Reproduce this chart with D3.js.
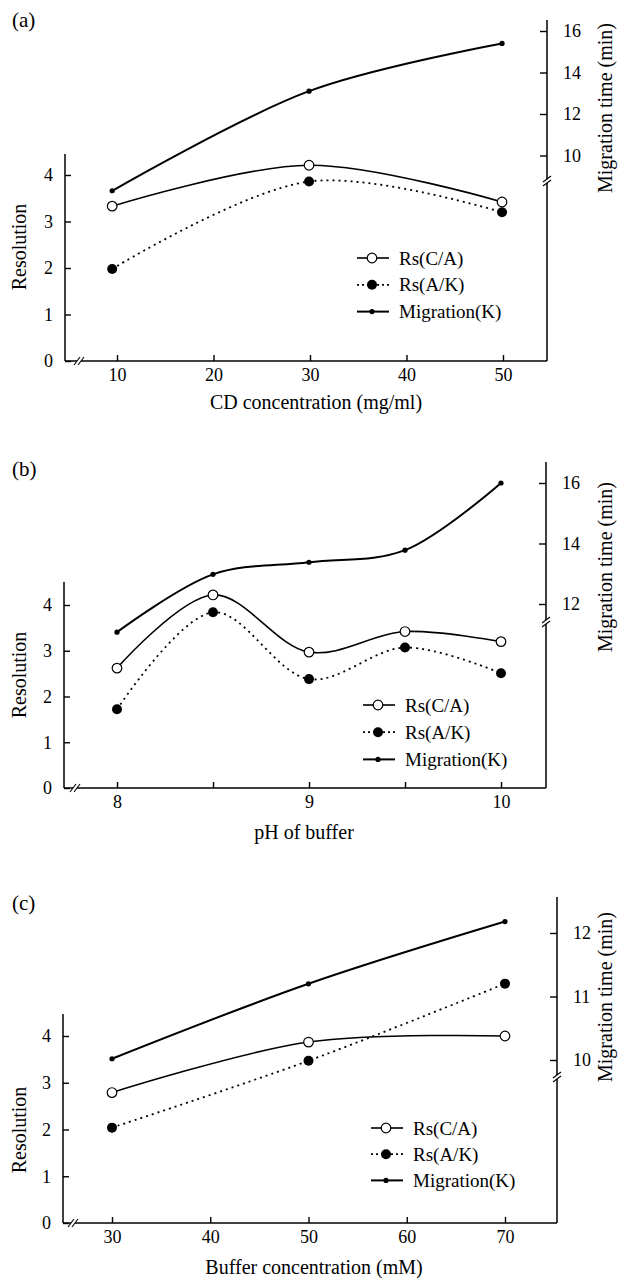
<!DOCTYPE html>
<html>
<head>
<meta charset="utf-8">
<script src="https://cdn.jsdelivr.net/npm/d3@7"></script>
<style>
  html, body { margin: 0; padding: 0; background: #fff; }
  svg { display: block; font-family: "Liberation Serif", "Times New Roman", serif; }
</style>
</head>
<body>
<div id="chart"></div>
<script>
// ---- data ----
const seriesNames = ["Rs(C/A)", "Rs(A/K)", "Migration(K)"];
const resTicks = [0, 1, 2, 3, 4];

// (a) CD concentration
const cdConc = [9.5, 29.9, 49.9];
const rsCA_a = [3.33, 4.21, 3.42];
const rsAK_a = [1.98, 3.86, 3.2];
const migK_a = [8.3, 13.1, 15.4];
const xTicks_a = [10, 20, 30, 40, 50];
const migTicks_a = [10, 12, 14, 16];

// (b) pH
const phBuf = [8, 8.5, 9, 9.5, 10];
const rsCA_b = [2.62, 4.22, 2.97, 3.42, 3.2];
const rsAK_b = [1.72, 3.84, 2.38, 3.07, 2.51];
const migK_b = [11.07, 12.98, 13.38, 13.78, 16.0];
const xTicks_b = [8, 8.5, 9, 9.5, 10];
const xLabels_b = [8, 9, 10];
const migTicks_b = [12, 14, 16];

// (c) buffer concentration
const bufConc = [30, 50, 70];
const rsCA_c = [2.79, 3.87, 4.0];
const rsAK_c = [2.04, 3.47, 5.12];
const migK_c = [10.02, 11.2, 12.18];
const xTicks_c = [30, 40, 50, 60, 70];
const migTicks_c = [10, 11, 12];

const W = 619, H = 1278;
const svg = d3.select("#chart").append("svg")
  .attr("width", W).attr("height", H)
  .attr("viewBox", `0 0 ${W} ${H}`);

function drawPanel(p) {
  const g = svg.append("g");
  const x = d3.scaleLinear().domain(p.xDom).range(p.xRange);
  const yL = d3.scaleLinear().domain([0, 4]).range(p.yLRange);
  const yR = d3.scaleLinear().domain(p.yRDom).range(p.yRRange);

  const axisStyle = (sel) => {
    sel.select(".domain").remove();
    sel.selectAll(".tick line").attr("stroke", "#000").attr("stroke-width", 1.4);
    sel.selectAll(".tick text").attr("font-size", 18).attr("fill", "#000")
      .attr("font-family", "Liberation Serif");
  };

  // axes lines
  g.append("line").attr("x1", p.left).attr("x2", p.left)
    .attr("y1", p.topL).attr("y2", p.bottom)
    .attr("stroke", "#000").attr("stroke-width", 1.5);
  g.append("line").attr("x1", p.left).attr("x2", p.right)
    .attr("y1", p.bottom).attr("y2", p.bottom)
    .attr("stroke", "#000").attr("stroke-width", 1.5);
  g.append("line").attr("x1", p.right).attr("x2", p.right)
    .attr("y1", p.topR).attr("y2", p.bottom)
    .attr("stroke", "#000").attr("stroke-width", 1.5);

  g.append("g").attr("transform", `translate(${p.left},0)`)
    .call(d3.axisLeft(yL).tickValues(resTicks).tickSize(-6).tickPadding(12)
      .tickFormat(d3.format("d")))
    .call(axisStyle);

  g.append("g").attr("transform", `translate(0,${p.bottom})`)
    .call(d3.axisBottom(x).tickValues(p.xTicks).tickSize(-6).tickPadding(7)
      .tickFormat((d) => (p.xLabels.includes(d) ? d : "")))
    .call(axisStyle);

  g.append("g").attr("transform", `translate(${p.right},0)`)
    .call(d3.axisRight(yR).tickValues(p.migTicks).tickSize(-7).tickPadding(16)
      .tickFormat(d3.format("d")))
    .call(axisStyle);

  // break marks
  const brk = (cx, cy, vertical) => {
    const b = g.append("g").attr("transform", `translate(${cx},${cy})`);
    if (vertical) {
      b.append("rect").attr("x", -3).attr("y", -2).attr("width", 6).attr("height", 4).attr("fill", "#fff");
      [-2, 2].forEach((o) => b.append("line")
        .attr("x1", -4).attr("y1", o + 3).attr("x2", 4).attr("y2", o - 3)
        .attr("stroke", "#000").attr("stroke-width", 1.1));
    } else {
      b.append("rect").attr("x", -2).attr("y", -3).attr("width", 4).attr("height", 6).attr("fill", "#fff");
      [-2, 2].forEach((o) => b.append("line")
        .attr("x1", o - 3).attr("y1", 4).attr("x2", o + 3).attr("y2", -4)
        .attr("stroke", "#000").attr("stroke-width", 1.1));
    }
  };
  brk(p.xBreak, p.bottom, false);
  brk(p.right, p.yBreak, true);

  // lines
  const curve = d3.curveCatmullRom.alpha(0.5);
  const lineL = d3.line().x((d) => x(d[0])).y((d) => yL(d[1])).curve(curve);
  const lineR = d3.line().x((d) => x(d[0])).y((d) => yR(d[1])).curve(curve);
  const ca = p.xs.map((v, i) => [v, p.ca[i]]);
  const ak = p.xs.map((v, i) => [v, p.ak[i]]);
  const mg = p.xs.map((v, i) => [v, p.mg[i]]);

  g.append("path").datum(mg).attr("d", lineR).attr("fill", "none")
    .attr("stroke", "#000").attr("stroke-width", 2);
  g.append("path").datum(ca).attr("d", lineL).attr("fill", "none")
    .attr("stroke", "#000").attr("stroke-width", 1.6);
  g.append("path").datum(ak).attr("d", lineL).attr("fill", "none")
    .attr("stroke", "#000").attr("stroke-width", 1.8).attr("stroke-dasharray", "2,4");

  g.selectAll(".mg").data(mg).join("circle")
    .attr("cx", (d) => x(d[0])).attr("cy", (d) => yR(d[1])).attr("r", 2.6).attr("fill", "#000");
  g.selectAll(".ak").data(ak).join("circle")
    .attr("cx", (d) => x(d[0])).attr("cy", (d) => yL(d[1])).attr("r", 5).attr("fill", "#000");
  g.selectAll(".ca").data(ca).join("circle")
    .attr("cx", (d) => x(d[0])).attr("cy", (d) => yL(d[1])).attr("r", 4.8)
    .attr("fill", "#fff").attr("stroke", "#000").attr("stroke-width", 1.2);

  // legend
  const lg = g.append("g").attr("transform", `translate(${p.legX},${p.legY})`);
  seriesNames.forEach((name, i) => {
    const r = lg.append("g").attr("transform", `translate(0,${i * p.legGap})`);
    const ln = r.append("line").attr("x1", 0).attr("x2", 32).attr("y1", 0).attr("y2", 0)
      .attr("stroke", "#000");
    if (i === 0) {
      ln.attr("stroke-width", 1.6);
      r.append("circle").attr("cx", 15).attr("r", 4.8).attr("fill", "#fff")
        .attr("stroke", "#000").attr("stroke-width", 1.2);
    } else if (i === 1) {
      ln.attr("stroke-width", 1.8).attr("stroke-dasharray", "2,3");
      r.append("circle").attr("cx", 15).attr("r", 5).attr("fill", "#000");
    } else {
      ln.attr("stroke-width", 2);
      r.append("circle").attr("cx", 15).attr("r", 2.6).attr("fill", "#000");
    }
    r.append("text").attr("x", 42).attr("y", 6.5).attr("font-size", 19).text(name);
  });

  // titles
  g.append("text").attr("x", 12).attr("y", p.tagY).attr("font-size", 21).text(p.tag);
  g.append("text").attr("x", p.xTitleX).attr("y", p.xTitleY).attr("text-anchor", "middle")
    .attr("font-size", 20).text(p.xTitle);
  g.append("text").attr("transform", `translate(26,${p.resY}) rotate(-90)`)
    .attr("text-anchor", "middle").attr("font-size", 20).text("Resolution");
  g.append("text").attr("transform", `translate(612,${p.migY}) rotate(-90)`)
    .attr("text-anchor", "middle").attr("font-size", 20).text("Migration time (min)");
}

drawPanel({
  tag: "(a)", tagY: 27,
  xs: cdConc, ca: rsCA_a, ak: rsAK_a, mg: migK_a,
  xDom: [10, 50], xRange: [117, 503], xTicks: xTicks_a, xLabels: xTicks_a,
  yLRange: [361, 175], yRDom: [10, 16], yRRange: [155.5, 31], migTicks: migTicks_a,
  left: 65, right: 547, bottom: 361, topL: 154, topR: 20,
  xBreak: 79, yBreak: 181,
  legX: 357, legY: 258, legGap: 26.8,
  xTitle: "CD concentration (mg/ml)", xTitleX: 316, xTitleY: 409,
  resY: 247, migY: 108
});

drawPanel({
  tag: "(b)", tagY: 476,
  xs: phBuf, ca: rsCA_b, ak: rsAK_b, mg: migK_b,
  xDom: [8, 10], xRange: [117, 501], xTicks: xTicks_b, xLabels: xLabels_b,
  yLRange: [788, 605], yRDom: [12, 16], yRRange: [604, 483], migTicks: migTicks_b,
  left: 64, right: 546, bottom: 788, topL: 582, topR: 462,
  xBreak: 75, yBreak: 622,
  legX: 363, legY: 705, legGap: 27.2,
  xTitle: "pH of buffer", xTitleX: 304, xTitleY: 839,
  resY: 675, migY: 567
});

drawPanel({
  tag: "(c)", tagY: 910,
  xs: bufConc, ca: rsCA_c, ak: rsAK_c, mg: migK_c,
  xDom: [30, 70], xRange: [112, 505], xTicks: xTicks_c, xLabels: xTicks_c,
  yLRange: [1223, 1036], yRDom: [10, 12], yRRange: [1060, 933], migTicks: migTicks_c,
  left: 63, right: 557, bottom: 1223, topL: 1014, topR: 897,
  xBreak: 73, yBreak: 1077,
  legX: 371, legY: 1128, legGap: 26.2,
  xTitle: "Buffer concentration (mM)", xTitleX: 314, xTitleY: 1274,
  resY: 1130, migY: 997
});
</script>
</body>
</html>
